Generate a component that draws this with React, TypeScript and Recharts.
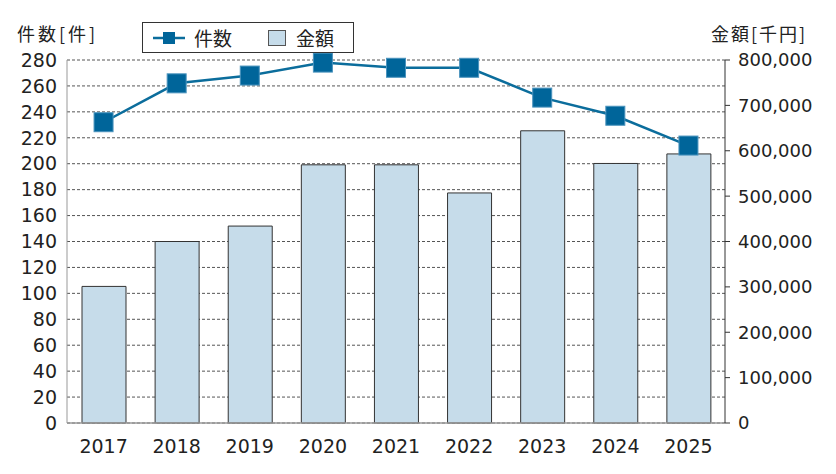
import {
  Bar,
  CartesianGrid,
  ComposedChart,
  Line,
  XAxis,
  YAxis,
} from "recharts";

const years = ["2017", "2018", "2019", "2020", "2021", "2022", "2023", "2024", "2025"];
const counts = [232, 262, 268, 278, 274, 274, 251, 237, 214];
const amounts = [301000, 400000, 434000, 569000, 569000, 507000, 644000, 572000, 593000];
const countTicks = [0, 20, 40, 60, 80, 100, 120, 140, 160, 180, 200, 220, 240, 260, 280];
const amountTicks = [0, 100000, 200000, 300000, 400000, 500000, 600000, 700000, 800000];

const data = years.map((y, i) => ({ year: y, count: counts[i], amount: amounts[i] }));

const FONT = "'Noto Sans CJK JP', 'Noto Sans', sans-serif";
const NUM_FONT = "'DejaVu Sans', sans-serif";
const LINE = "#0b6d9c";
const MARK = "#00659a";
const BAR = "#c6dcea";
const TXT = "#222";

function SquareDot(props: any) {
  const { cx, cy } = props;
  if (cx == null || cy == null) return null;
  return <rect x={cx - 9.5} y={cy - 9.5} width={19} height={19} fill={MARK} stroke="#4a93bd" strokeWidth={1} />;
}

export default function App() {
  return (
    <div
      style={{
        position: "absolute",
        left: 0,
        top: 0,
        width: 836,
        height: 474,
        background: "#fff",
        fontFamily: FONT,
        color: TXT,
      }}
    >
      <ComposedChart width={836} height={474} data={data} margin={{ top: 60, right: 0, left: 0, bottom: 0 }}>
        <CartesianGrid yAxisId="left" vertical={false} stroke="#555" strokeDasharray="3 2" />
        <XAxis
          dataKey="year"
          height={51}
          tickSize={0}
          tickMargin={17}
          axisLine={{ stroke: "#999", strokeWidth: 1.5 }}
          tick={{ fontSize: 19, fill: TXT, fontFamily: NUM_FONT }}
        />
        <YAxis
          yAxisId="left"
          width={67}
          domain={[0, 280]}
          ticks={countTicks}
          interval={0}
          tickSize={0}
          tickMargin={10}
          axisLine={{ stroke: "#999", strokeWidth: 1 }}
          tick={{ fontSize: 19, fill: TXT, fontFamily: NUM_FONT }}
        />
        <YAxis
          yAxisId="right"
          orientation="right"
          width={111}
          domain={[0, 800000]}
          ticks={amountTicks}
          interval={0}
          tickSize={5}
          tickMargin={8}
          axisLine={{ stroke: "#333", strokeWidth: 1 }}
          tickLine={{ stroke: "#333" }}
          tickFormatter={(v: number) => v.toLocaleString("en-US")}
          tick={{ fontSize: 18, fill: TXT, fontFamily: NUM_FONT }}
        />
        <Bar
          yAxisId="right"
          dataKey="amount"
          barSize={44}
          fill={BAR}
          stroke="#333"
          strokeWidth={1}
          isAnimationActive={false}
        />
        <Line
          yAxisId="left"
          dataKey="count"
          stroke={LINE}
          strokeWidth={2.5}
          dot={<SquareDot />}
          isAnimationActive={false}
        />
      </ComposedChart>

      <div style={{ position: "absolute", left: 17, top: 20, fontSize: 18, letterSpacing: 3 }}>件数[件]</div>
      <div style={{ position: "absolute", left: 711, top: 20, fontSize: 18, letterSpacing: 2 }}>金額[千円]</div>

      <div
        style={{
          position: "absolute",
          left: 142,
          top: 22,
          width: 210,
          height: 29,
          border: "1px solid #333",
          background: "#fff",
          fontSize: 19,
        }}
      >
        <svg width={34} height={20} style={{ position: "absolute", left: 10, top: 5 }}>
          <line x1={0} y1={10} x2={32} y2={10} stroke={LINE} strokeWidth={2.5} />
          <rect x={10} y={4} width={12} height={12} fill={MARK} />
        </svg>
        <span style={{ position: "absolute", left: 51, top: 0, lineHeight: "29px" }}>件数</span>
        <div
          style={{
            position: "absolute",
            left: 125,
            top: 7,
            width: 16,
            height: 14,
            background: BAR,
            border: "1px solid #555",
          }}
        />
        <span style={{ position: "absolute", left: 153, top: 0, lineHeight: "29px" }}>金額</span>
      </div>
    </div>
  );
}
